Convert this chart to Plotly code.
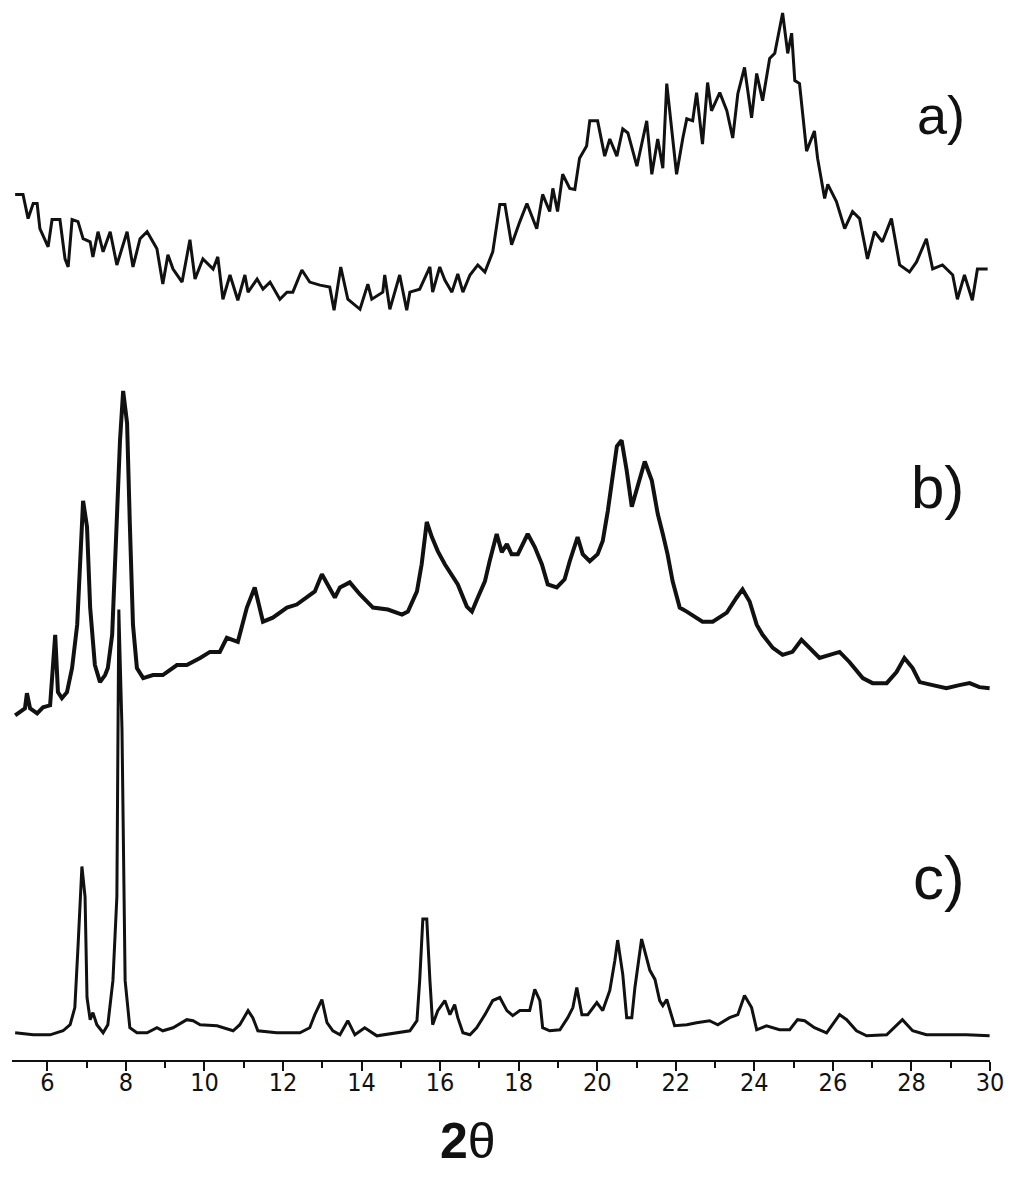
"""XRD patterns a), b), c) stacked — Plotly figure."""
import plotly.graph_objects as go

# ---- data (2θ in degrees, intensity in arbitrary offset units) ----
A_2THETA = [5.18, 5.38, 5.51, 5.64, 5.74, 5.81, 6.02, 6.12, 6.32, 6.45, 6.53, 6.63, 6.78, 6.91,
            7.09, 7.16, 7.29, 7.42, 7.60, 7.77, 8.03, 8.18, 8.36, 8.54, 8.79, 8.94, 9.07, 9.20,
            9.43, 9.63, 9.76, 9.96, 10.22, 10.34, 10.47, 10.65, 10.85, 11.03, 11.11, 11.34,
            11.49, 11.67, 11.92, 12.10, 12.25, 12.48, 12.68, 12.94, 13.19, 13.30, 13.47, 13.65,
            13.96, 14.16, 14.26, 14.54, 14.59, 14.72, 14.97, 15.15, 15.23, 15.48, 15.74, 15.81,
            15.99, 16.12, 16.30, 16.45, 16.58, 16.76, 16.96, 17.14, 17.34, 17.52, 17.65, 17.82,
            18.03, 18.21, 18.46, 18.61, 18.79, 18.87, 18.99, 19.12, 19.30, 19.43, 19.55, 19.73,
            19.81, 20.01, 20.19, 20.32, 20.50, 20.65, 20.78, 21.01, 21.26, 21.39, 21.54, 21.67,
            21.77, 22.02, 22.18, 22.28, 22.43, 22.53, 22.68, 22.81, 22.91, 23.12, 23.30, 23.45,
            23.58, 23.75, 23.93, 24.06, 24.21, 24.39, 24.52, 24.72, 24.85, 24.95, 25.03, 25.15,
            25.33, 25.53, 25.61, 25.79, 25.87, 26.09, 26.30, 26.50, 26.68, 26.88, 27.06, 27.26,
            27.49, 27.70, 27.95, 28.13, 28.38, 28.54, 28.79, 29.05, 29.17, 29.35, 29.55, 29.68,
            29.94]
A_INT = [859, 859, 835, 850, 850, 825, 807, 834, 834, 795, 787, 834, 832, 815,
         812, 797, 822, 802, 822, 789, 822, 787, 815, 822, 805, 770, 799, 785,
         772, 814, 775, 795, 785, 797, 755, 779, 754, 779, 762, 775,
         765, 772, 755, 762, 762, 784, 772, 769, 767, 744, 787, 755,
         745, 770, 755, 762, 779, 745, 779, 744, 762, 765, 787, 762,
         787, 774, 762, 780, 762, 779, 789, 782, 802, 849, 849, 809,
         832, 850, 825, 859, 842, 865, 842, 879, 865, 864, 895, 907,
         932, 932, 897, 914, 897, 924, 920, 887, 932, 879, 914, 885,
         969, 879, 915, 934, 932, 960, 909, 970, 942, 960, 942, 915,
         959, 985, 935, 979, 952, 994, 999, 1039, 999, 1019, 972, 969,
         902, 922, 895, 855, 869, 852, 825, 842, 835, 795, 822, 812,
         835, 789, 782, 792, 815, 785, 789, 779, 755, 779, 754, 785,
         785]

B_2THETA = [5.18, 5.43, 5.48, 5.56, 5.74, 5.89, 6.07, 6.12, 6.20, 6.27, 6.37, 6.50, 6.63, 6.76,
            6.83, 6.91, 7.01, 7.09, 7.21, 7.34, 7.47, 7.54, 7.65, 7.77, 7.85, 7.93, 8.03, 8.10,
            8.18, 8.28, 8.44, 8.69, 8.94, 9.30, 9.55, 9.89, 10.14, 10.39, 10.57, 10.85, 11.08,
            11.28, 11.41, 11.49, 11.74, 12.10, 12.35, 12.61, 12.81, 12.99, 13.14, 13.32, 13.45,
            13.70, 13.96, 14.29, 14.67, 15.03, 15.18, 15.41, 15.53, 15.66, 15.79, 15.94, 16.12,
            16.30, 16.45, 16.68, 16.81, 16.96, 17.14, 17.26, 17.44, 17.57, 17.70, 17.82, 17.98,
            18.23, 18.41, 18.59, 18.74, 18.97, 19.17, 19.30, 19.50, 19.63, 19.81, 20.01, 20.14,
            20.27, 20.50, 20.62, 20.75, 20.88, 21.03, 21.21, 21.39, 21.54, 21.67, 21.79, 21.92,
            22.10, 22.28, 22.53, 22.68, 22.94, 23.30, 23.55, 23.70, 23.88, 24.06, 24.21, 24.47,
            24.72, 24.97, 25.20, 25.41, 25.66, 25.92, 26.17, 26.42, 26.76, 27.01, 27.37, 27.62,
            27.82, 28.03, 28.21, 28.54, 28.89, 29.22, 29.48, 29.73, 29.99]
B_INT = [342, 349, 364, 349, 344, 350, 352, 385, 422, 365, 359, 365, 389, 432,
         499, 555, 529, 449, 392, 375, 382, 389, 422, 532, 615, 664, 632, 532,
         432, 389, 379, 382, 382, 392, 392, 399, 405, 405, 419, 415, 449,
         469, 449, 435, 439, 449, 452, 459, 465, 482, 472, 459, 469,
         474, 462, 449, 447, 442, 445, 465, 492, 534, 519, 505, 492,
         482, 472, 450, 445, 459, 475, 495, 522, 504, 512, 502, 502,
         522, 509, 492, 472, 469, 477, 495, 519, 502, 495, 502, 515,
         545, 609, 615, 585, 549, 569, 594, 575, 542, 522, 502, 475,
         449, 445, 439, 435, 435, 444, 459, 467, 455, 432, 422, 409,
         402, 405, 417, 409, 399, 402, 405, 395, 379, 374, 374, 385,
         399, 389, 375, 372, 369, 372, 374, 370, 369]

C_2THETA = [5.18, 5.64, 6.07, 6.40, 6.58, 6.70, 6.78, 6.88, 6.96, 7.01, 7.09, 7.16, 7.26, 7.42,
            7.54, 7.67, 7.77, 7.82, 7.90, 7.98, 8.10, 8.28, 8.54, 8.79, 8.94, 9.20, 9.55, 9.71,
            9.89, 10.32, 10.73, 10.90, 11.11, 11.23, 11.36, 11.84, 12.43, 12.68, 12.81, 12.99,
            13.12, 13.27, 13.45, 13.65, 13.83, 14.08, 14.39, 14.90, 15.23, 15.41, 15.48, 15.56,
            15.66, 15.74, 15.81, 15.94, 16.12, 16.25, 16.37, 16.45, 16.58, 16.76, 16.93, 17.14,
            17.34, 17.52, 17.70, 17.85, 18.03, 18.28, 18.41, 18.54, 18.61, 18.79, 19.05, 19.25,
            19.38, 19.48, 19.61, 19.76, 19.99, 20.14, 20.32, 20.45, 20.52, 20.65, 20.75, 20.88,
            20.96, 21.13, 21.21, 21.34, 21.47, 21.59, 21.67, 21.77, 21.97, 22.28, 22.53, 22.86,
            23.07, 23.37, 23.58, 23.75, 23.93, 24.06, 24.31, 24.64, 24.90, 25.10, 25.28, 25.53,
            25.84, 26.17, 26.35, 26.60, 26.86, 27.37, 27.77, 28.03, 28.38, 28.89, 29.40, 29.99]
C_INT = [27, 25, 25, 29, 35, 52, 112, 192, 162, 62, 40, 47, 35, 27,
         35, 79, 162, 447, 329, 79, 32, 27, 27, 32, 29, 32, 40, 39,
         35, 34, 29, 35, 49, 42, 29, 27, 27, 32, 45, 60,
         37, 29, 25, 39, 25, 32, 24, 27, 29, 39, 79, 140,
         140, 79, 35, 49, 59, 45, 55, 42, 27, 25, 32, 45,
         59, 62, 49, 44, 49, 49, 70, 59, 32, 29, 30, 42,
         52, 72, 45, 45, 57, 49, 69, 99, 119, 85, 42, 42,
         72, 120, 107, 89, 80, 59, 54, 60, 34, 35, 37, 39,
         35, 42, 45, 64, 52, 30, 34, 30, 30, 40, 39, 32,
         27, 45, 40, 29, 24, 25, 40, 29, 25, 25, 25, 24]

TRACES = [("a)", A_2THETA, A_INT, 3), ("b)", B_2THETA, B_INT, 4), ("c)", C_2THETA, C_INT, 3)]
LABELS = [("a)", 28.08, 938, 54), ("b)", 27.95, 568, 60), ("c)", 28.0, 181, 62)]
TICKS = list(range(6, 31, 2))

fig = go.Figure()
for name, x, y, w in TRACES:
    fig.add_trace(go.Scatter(x=x, y=y, mode="lines", name=name,
                             line=dict(color="#111111", width=w), showlegend=False))

for text, x, y, size in LABELS:
    fig.add_annotation(x=x, y=y, xref="x", yref="y", text=text, showarrow=False,
                       xanchor="left", yanchor="middle",
                       font=dict(family="Liberation Sans, Arial, sans-serif", size=size, color="#111111"))

fig.add_annotation(x=16.7, y=-0.077, xref="x", yref="paper", text="<b>2</b>θ", showarrow=False,
                   xanchor="center", yanchor="middle",
                   font=dict(family="Liberation Sans, Arial, sans-serif", size=50, color="#111111"))

fig.update_xaxes(range=[5.1, 30], showline=True, linecolor="#111111", linewidth=2,
                 ticks="outside", ticklen=9, tickwidth=2, tickcolor="#111111",
                 tickvals=TICKS, ticktext=[str(t) for t in TICKS], ticklabelstandoff=-10,
                 minor=dict(dtick=1, tick0=5, ticks="outside", ticklen=6, tickwidth=1.5,
                            tickcolor="#111111"),
                 tickfont=dict(family="Liberation Sans Narrow, DejaVu Sans Condensed, sans-serif",
                               size=25, color="#111111"),
                 showgrid=False, zeroline=False)
fig.update_yaxes(range=[0, 1044], visible=False, showgrid=False, zeroline=False)

# the page body adds 8 px around the figure, so the figure is made that much smaller
fig.update_layout(width=1016, height=1174, plot_bgcolor="white", paper_bgcolor="white",
                  margin=dict(l=4, r=34, t=0, b=122))

fig.write_html("out.html")
